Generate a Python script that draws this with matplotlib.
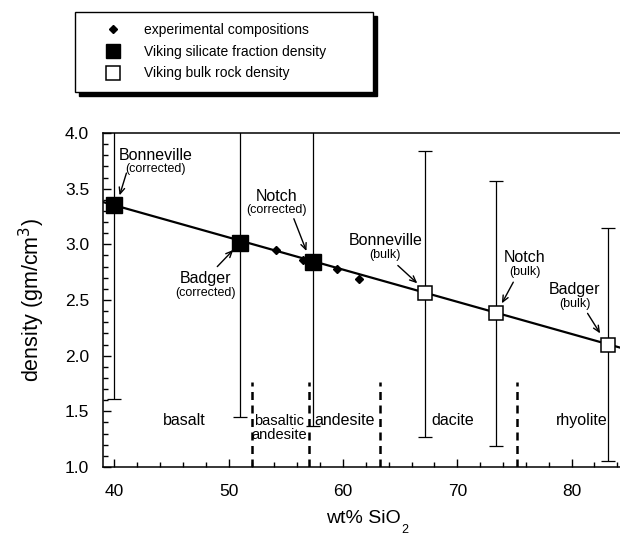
import numpy as np
import matplotlib
matplotlib.use("Agg")
import matplotlib.pyplot as plt
from matplotlib.lines import Line2D
from matplotlib.ticker import MultipleLocator

plt.rcParams['font.family'] = ['Liberation Sans', 'DejaVu Sans']

# experimental compositions
exp_sio2 = [54.1, 56.5, 59.5, 61.4]
exp_dens = [2.95, 2.86, 2.78, 2.69]

# Viking silicate fraction (corrected)
sil_names = ['Bonneville', 'Badger', 'Notch']
sil_sio2 = [40.0, 51.0, 57.4]
sil_dens = [3.35, 3.01, 2.84]
sil_low = [1.61, 1.45, 1.37]
sil_high = [4.4, 4.4, 4.4]

# Viking bulk rock
bulk_names = ['Bonneville', 'Notch', 'Badger']
bulk_sio2 = [67.2, 73.4, 83.2]
bulk_dens = [2.56, 2.38, 2.10]
bulk_low = [1.27, 1.185, 1.05]
bulk_high = [3.84, 3.57, 3.15]

# linear fit density = a + b * SiO2
fit_a = 4.507
fit_b = -0.0289

# rock type boundaries and names
bounds = [52, 57, 63.2, 75.2]
rock_names = ['basalt', 'basaltic\nandesite', 'andesite', 'dacite', 'rhyolite']
rock_x = [46.1, 54.4, 60.1, 69.6, 80.9]

fig = plt.figure(figsize=(6.2, 5.35), dpi=100)
ax = fig.add_axes([103 / 620, 68 / 535, 520 / 620, 334 / 535])
ax.set_xlim(39, 84.5)
ax.set_ylim(1.0, 4.0)

xl = np.array(ax.get_xlim())
ax.plot(xl, fit_a + fit_b * xl, color='black', lw=1.6, zorder=3)

# error bars
for x, lo, hi in zip(sil_sio2 + bulk_sio2, sil_low + bulk_low, sil_high + bulk_high):
    ax.errorbar([x], [(lo + hi) / 2], yerr=[[(hi - lo) / 2], [(hi - lo) / 2]],
                fmt='none', ecolor='black', elinewidth=0.9, capsize=5, capthick=0.9, zorder=2)

ax.plot(exp_sio2, exp_dens, 'D', color='black', ms=4.5, zorder=4)
ax.plot(sil_sio2, sil_dens, 's', color='black', ms=11, zorder=5)
ax.plot(bulk_sio2, bulk_dens, 's', mfc='white', mec='black', mew=1.1, ms=10, zorder=5)

# rock boundaries
for b in bounds:
    ax.plot([b, b], [1.0, 1.76], color='black', lw=1.8, ls=(0, (3.2, 2.2)), zorder=2)
for name, x in zip(rock_names, rock_x):
    if '\n' in name:
        ax.text(x, 1.35, name, ha='center', va='center', fontsize=10.5, linespacing=1.0)
    else:
        ax.text(x, 1.42, name, ha='center', va='center', fontsize=11.5)

# annotations: (name, sub, text x, text y, tail x, tail y, head x, head y)
notes = [
    ('Bonneville', '(corrected)', 43.6, 3.80, 41.05, 3.64, 40.45, 3.44),
    ('Badger', '(corrected)', 48.0, 2.69, 49.0, 2.80, 50.4, 2.95),
    ('Notch', '(corrected)', 54.2, 3.43, 55.7, 3.23, 56.8, 2.94),
    ('Bonneville', '(bulk)', 63.7, 3.03, 64.8, 2.81, 66.5, 2.65),
    ('Notch', '(bulk)', 75.9, 2.88, 74.9, 2.66, 73.9, 2.47),
    ('Badger', '(bulk)', 80.3, 2.59, 81.4, 2.38, 82.5, 2.20),
]
for name, sub, tx, ty, ax0, ay0, hx, hy in notes:
    ax.text(tx, ty, name, ha='center', va='center', fontsize=11.5)
    ax.text(tx, ty - 0.125, sub, ha='center', va='center', fontsize=9)
    ax.annotate('', xy=(hx, hy), xytext=(ax0, ay0),
                arrowprops=dict(arrowstyle='->,head_length=0.45,head_width=0.2',
                                color='black', lw=1.0, shrinkA=0, shrinkB=0))

ax.xaxis.set_major_locator(MultipleLocator(10))
ax.xaxis.set_minor_locator(MultipleLocator(2))
ax.yaxis.set_major_locator(MultipleLocator(0.5))
ax.yaxis.set_minor_locator(MultipleLocator(0.1))
ax.yaxis.set_major_formatter(matplotlib.ticker.FormatStrFormatter('%.1f'))
ax.tick_params(which='both', direction='in', top=False, right=False, labelsize=12.5, width=1)
ax.tick_params(which='major', length=6)
ax.tick_params(which='minor', length=3.5)
ax.tick_params(axis='y', pad=10)
ax.tick_params(axis='x', pad=12)
for s in ax.spines.values():
    s.set_linewidth(1.1)

xlab = ax.set_xlabel('wt% SiO', fontsize=14, labelpad=8)
ax.annotate('2', xy=(1, 0), xycoords=xlab, xytext=(1, 2), textcoords='offset points',
            ha='left', va='top', fontsize=9)
ax.set_ylabel('density (gm/cm$^3$)', fontsize=15.5, labelpad=13)

handles = [
    Line2D([], [], ls='none', marker='D', color='black', ms=4.5),
    Line2D([], [], ls='none', marker='s', color='black', ms=10),
    Line2D([], [], ls='none', marker='s', mfc='white', mec='black', mew=1.1, ms=9.5),
]
labels = ['experimental compositions', 'Viking silicate fraction density', 'Viking bulk rock density']
fig.legend(handles, labels, loc='upper left', bbox_to_anchor=(75 / 620, 1 - 12 / 535 - 0.01, 298 / 620, 0.01),
           mode='expand', fontsize=10, frameon=True, fancybox=False, edgecolor='black',
           framealpha=1, borderpad=0.8, borderaxespad=0, handlelength=3.9, handletextpad=0.3,
           labelspacing=0.55, shadow={'ox': 3, 'oy': -3, 'color': 'black', 'alpha': 1})

fig.savefig('out.png', dpi=100)
